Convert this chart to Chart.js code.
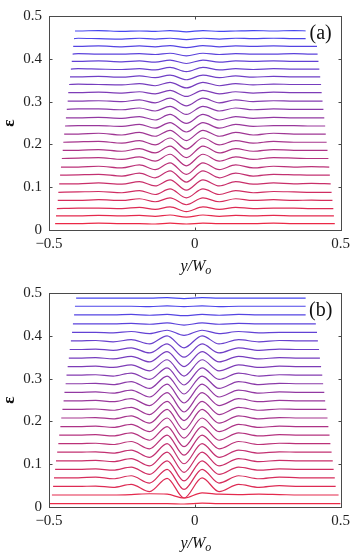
<!DOCTYPE html>
<html><head><meta charset="utf-8">
<script src="https://cdn.jsdelivr.net/npm/chart.js@4.4.0/dist/chart.umd.min.js"></script>
<style>html,body{margin:0;padding:0;background:#fff;overflow:hidden}canvas{display:block}</style>
</head><body>
<canvas id="ca" width="355" height="277"></canvas>
<canvas id="cb" width="355" height="277"></canvas>
<script>
// ---------- data ----------
const xTickValues = [-0.5, 0, 0.5];
const yTickValues = [0, 0.1, 0.2, 0.3, 0.4, 0.5];
const xTitle = ['y/W', 'o'];      // italic, second part subscript
const yTitle = 'ε';

// Panel (a): curves listed bottom -> top
const gridA = [-0.40, -0.33, -0.25, -0.19, -0.136, -0.085, -0.029, 0.028, 0.084, 0.14, 0.20, 0.27, 0.34, 0.40];
const baseA = [0.015, 0.033, 0.050, 0.069, 0.088, 0.108, 0.128, 0.147, 0.167, 0.186, 0.205, 0.224, 0.243, 0.262, 0.282, 0.301, 0.321, 0.340, 0.358, 0.376, 0.394, 0.411, 0.429, 0.447, 0.465];
const startA = [-0.479,-0.476,-0.473,-0.470,-0.468,-0.465,-0.462,-0.459,-0.456,-0.453,-0.451,-0.448,-0.445,-0.442,-0.439,-0.436,-0.434,-0.431,-0.428,-0.425,-0.422,-0.419,-0.417,-0.414,-0.411];
const endA = [0.480,0.477,0.475,0.472,0.469,0.466,0.463,0.461,0.458,0.455,0.452,0.449,0.447,0.444,0.441,0.438,0.435,0.433,0.430,0.427,0.424,0.421,0.419,0.416,0.413];
// deviation from each curve's baseline at gridA, in thousandths of ε
const devA = [
  [0, 1, 0, 0, -1, 1, -1, 1, 0, 0, 0, 1, 0, 0],
  [0, 1, 0, 1, -1, 2, -3, 2, -1, 1, 0, 1, 0, 0],
  [1, 1, 0, 3, -2, 4, -7, 4, -2, 3, 0, 1, 1, 0],
  [0, 2, 0, 4, -3, 6, -10, 6, -3, 4, 0, 2, 0, 1],
  [1, 2, -1, 4, -5, 8, -13, 8, -5, 4, -1, 2, 1, 0],
  [0, 2, -1, 5, -5, 9, -15, 9, -5, 5, -1, 2, 0, 1],
  [1, 2, -2, 5, -6, 10, -16, 10, -6, 5, -2, 2, 1, 0],
  [0, 2, -2, 5, -6, 10, -17, 10, -6, 5, -2, 2, 0, 1],
  [1, 2, -2, 4, -6, 10, -17, 10, -6, 4, -2, 2, 1, 0],
  [0, 2, -2, 4, -6, 10, -17, 10, -6, 4, -2, 2, 0, 0],
  [1, 2, -2, 4, -6, 10, -16, 10, -6, 4, -2, 2, 0, 0],
  [0, 2, -2, 4, -5, 9, -15, 9, -5, 4, -2, 2, 0, 0],
  [1, 1, -1, 4, -5, 8, -14, 8, -5, 4, -1, 1, 1, 0],
  [0, 1, -1, 3, -5, 8, -13, 8, -5, 3, -1, 1, 0, 0],
  [1, 1, -1, 3, -4, 7, -12, 7, -4, 3, -1, 1, 0, 0],
  [0, 1, -1, 3, -4, 7, -11, 7, -4, 3, -1, 1, 0, 0],
  [0, 1, -1, 2, -3, 5, -9, 5, -3, 2, -1, 1, 0, 0],
  [1, 0, -1, 2, -3, 5, -8, 5, -3, 2, -1, 1, 0, 0],
  [0, 1, -1, 2, -2, 4, -7, 4, -2, 2, -1, 1, 0, 0],
  [1, 0, -1, 1, -2, 4, -6, 4, -2, 1, -1, 1, 0, 0],
  [0, 1, -1, 1, -2, 3, -5, 3, -2, 1, 0, 1, 0, 0],
  [1, 0, 0, 1, -1, 2, -4, 2, -1, 1, 0, 0, 1, 0],
  [0, 1, -1, 1, -1, 2, -3, 2, -1, 1, 0, 1, 0, 0],
  [1, 0, -1, 1, -1, 1, -2, 1, -1, 1, 0, 1, 0, 0],
  [0, 1, -1, 0, -1, 1, -2, 1, -1, 0, 1, 0, 1, 0]
];

// Panel (b): curves listed bottom -> top
const gridB = [-0.40, -0.34, -0.28, -0.218, -0.155, -0.095, -0.037, 0.025, 0.083, 0.15, 0.22, 0.29, 0.36, 0.42];
const baseB = [0.008, 0.028, 0.048, 0.068, 0.088, 0.108, 0.128, 0.148, 0.168, 0.188, 0.208, 0.228, 0.248, 0.268, 0.288, 0.308, 0.328, 0.348, 0.368, 0.388, 0.408, 0.428, 0.449, 0.469, 0.488];
const startB = [-0.500,-0.490,-0.486,-0.483,-0.479,-0.476,-0.472,-0.468,-0.465,-0.461,-0.458,-0.454,-0.450,-0.447,-0.443,-0.440,-0.436,-0.432,-0.429,-0.425,-0.421,-0.418,-0.414,-0.411,-0.407];
const endB = [0.500,0.493,0.483,0.480,0.476,0.473,0.469,0.465,0.462,0.458,0.455,0.451,0.447,0.444,0.440,0.437,0.433,0.429,0.426,0.422,0.419,0.415,0.411,0.408,0.404];
const devB = [
  [0, 0, 0, 0, 0, 0, -1, 1, 0, 0, 0, 0, 0, 0],
  [0, 0, 0, 1, 3, 2, -7, 5, 2, 1, 2, 1, 0, 0],
  [0, 1, -2, 5, -12, 19, -27, 20, -12, 5, -2, 2, 0, 0],
  [0, 2, -2, 5, -12, 20, -27, 20, -12, 5, -2, 2, 0, 0],
  [0, 1, -2, 5, -12, 20, -27, 20, -12, 5, -2, 1, 0, 0],
  [0, 1, -2, 5, -12, 20, -27, 20, -12, 5, -2, 1, 0, 0],
  [0, 1, -2, 5, -12, 20, -27, 20, -12, 5, -2, 1, 0, 0],
  [0, 1, -2, 5, -12, 20, -27, 20, -12, 5, -2, 1, 0, 0],
  [0, 1, -2, 5, -12, 20, -27, 20, -12, 5, -2, 1, 0, 0],
  [0, 1, -2, 5, -12, 20, -27, 20, -12, 5, -2, 1, 0, 0],
  [0, 1, -2, 5, -12, 20, -27, 20, -12, 5, -2, 1, 0, 0],
  [0, 1, -2, 5, -12, 19, -26, 19, -12, 5, -2, 1, 0, 0],
  [0, 1, -2, 5, -11, 19, -26, 19, -11, 5, -2, 1, 0, 0],
  [0, 1, -2, 5, -11, 19, -25, 19, -11, 5, -2, 1, 0, 0],
  [0, 1, -2, 5, -11, 18, -24, 18, -11, 5, -2, 1, 0, 0],
  [0, 1, -2, 5, -10, 17, -23, 17, -10, 5, -2, 1, 0, 0],
  [0, 1, -2, 4, -10, 16, -22, 16, -10, 4, -2, 1, 0, 0],
  [0, 1, -2, 4, -9, 15, -20, 15, -9, 4, -2, 1, 0, 0],
  [0, 1, -2, 4, -8, 13, -18, 13, -8, 4, -2, 1, 0, 0],
  [0, 1, -2, 3, -7, 12, -16, 12, -7, 3, -2, 1, 0, 0],
  [0, 0, -1, 2, -3, 5, -7, 5, -3, 2, -1, 0, 0, 0],
  [0, 0, 0, 1, -1, 2, -3, 2, -1, 1, 0, 0, 0, 0],
  [0, 0, 0, 1, -1, 1, -2, 1, -1, 1, 0, 0, 0, 0],
  [0, 0, 0, 0, -1, 1, -1, 1, -1, 0, 0, 0, 0, 0],
  [0, 0, 0, 0, 0, 1, -1, 1, 0, 0, 0, 0, 0, 0]
];

// ---------- rendering ----------
const FONT = "'Liberation Serif', 'Times New Roman', serif";
Chart.defaults.font.family = FONT;
Chart.defaults.color = '#222';

function curveColor(i, n) {
  const t = i / (n - 1);
  const r = Math.round(235 + (70 - 235) * t);
  const g = Math.round(40 + (70 - 40) * t);
  const b = Math.round(70 + (240 - 70) * t);
  return `rgb(${r},${g},${b})`;
}

function buildDatasets(grid, base, start, end, dev) {
  const n = base.length;
  return base.map((b, i) => {
    const pts = [{x: start[i], y: b}];
    grid.forEach((gx, j) => {
      if (gx > start[i] + 0.004 && gx < end[i] - 0.004) pts.push({x: gx, y: b + dev[i][j] / 1000});
    });
    pts.push({x: end[i], y: b});
    return {
      data: pts, borderColor: curveColor(i, n), borderWidth: 1.2,
      pointRadius: 0, cubicInterpolationMode: 'monotone', fill: false
    };
  });
}

const fmt = v => (v < 0 ? '\u2212' + String(Math.abs(v)) : String(v));

const framePlugin = {
  id: 'frame',
  afterDraw(chart, args, opts) {
    const {ctx, chartArea: a, scales} = chart;
    const xs = scales.x, ys = scales.y;
    ctx.save();
    // panel label with white box
    ctx.fillStyle = '#fff';
    ctx.fillRect(a.right - 35, a.top + 1, 33, 27);
    ctx.fillStyle = '#111';
    ctx.font = `20px ${FONT}`;
    ctx.textAlign = 'center';
    ctx.textBaseline = 'alphabetic';
    ctx.fillText(opts.label, a.right - 20, a.top + 23);
    // box
    ctx.strokeStyle = '#4a4a4a';
    ctx.lineWidth = 1;
    const L = Math.round(a.left) + 0.5, R = Math.round(a.right) + 0.5;
    const T = Math.round(a.top) + 0.5, B = Math.round(a.bottom) + 0.5;
    ctx.strokeRect(L, T, R - L, B - T);
    // inward ticks on all sides
    ctx.beginPath();
    xTickValues.forEach(v => {
      const px = Math.round(xs.getPixelForValue(v)) + 0.5;
      ctx.moveTo(px, B); ctx.lineTo(px, B - 3);
      ctx.moveTo(px, T); ctx.lineTo(px, T + 3);
    });
    yTickValues.forEach(v => {
      const py = Math.round(ys.getPixelForValue(v)) + 0.5;
      ctx.moveTo(L, py); ctx.lineTo(L + 3, py);
      ctx.moveTo(R, py); ctx.lineTo(R - 3, py);
    });
    ctx.stroke();
    // y title
    ctx.fillStyle = '#111';
    ctx.save();
    ctx.translate(10, (a.top + a.bottom) / 2);
    ctx.rotate(-Math.PI / 2);
    ctx.font = `bold 17px ${FONT}`;
    ctx.textAlign = 'center';
    ctx.textBaseline = 'middle';
    ctx.fillText(yTitle, 0, 0);
    ctx.restore();
    // x title
    ctx.font = `italic 16px ${FONT}`;
    const w1 = ctx.measureText(xTitle[0]).width;
    ctx.font = `italic 12px ${FONT}`;
    const w2 = ctx.measureText(xTitle[1]).width;
    const cx = xs.getPixelForValue(0);
    const x0 = cx - (w1 + w2) / 2 + 1;
    const by = a.bottom + 41;
    ctx.textAlign = 'left';
    ctx.textBaseline = 'alphabetic';
    ctx.font = `italic 16px ${FONT}`;
    ctx.fillText(xTitle[0], x0, by);
    ctx.font = `italic 12px ${FONT}`;
    ctx.fillText(xTitle[1], x0 + w1, by + 3);
    ctx.restore();
  }
};

function makeChart(id, label, grid, base, start, end, dev) {
  return new Chart(document.getElementById(id), {
    type: 'line',
    data: {datasets: buildDatasets(grid, base, start, end, dev)},
    options: {
      responsive: false, animation: false, devicePixelRatio: 1,
      layout: {padding: {left: 0, right: 11, top: 12, bottom: 0}},
      plugins: {legend: {display: false}, tooltip: {enabled: false}, frame: {label}},
      scales: {
        x: {
          type: 'linear', min: -0.5, max: 0.5,
          afterBuildTicks: s => { s.ticks = xTickValues.map(v => ({value: v})); },
          afterFit: s => { s.height = 47; },
          grid: {display: false, drawTicks: false}, border: {display: false},
          ticks: {font: {size: 15}, color: '#222', padding: 5, maxRotation: 0, callback: fmt}
        },
        y: {
          type: 'linear', min: 0, max: 0.5,
          afterBuildTicks: s => { s.ticks = yTickValues.map(v => ({value: v})); },
          afterFit: s => { s.width = 49; },
          grid: {display: false, drawTicks: false}, border: {display: false},
          ticks: {font: {size: 15}, color: '#222', padding: 7, callback: fmt}
        }
      }
    },
    plugins: [framePlugin]
  });
}

makeChart('ca', '(a)', gridA, baseA, startA, endA, devA);
makeChart('cb', '(b)', gridB, baseB, startB, endB, devB);
</script>
</body></html>
